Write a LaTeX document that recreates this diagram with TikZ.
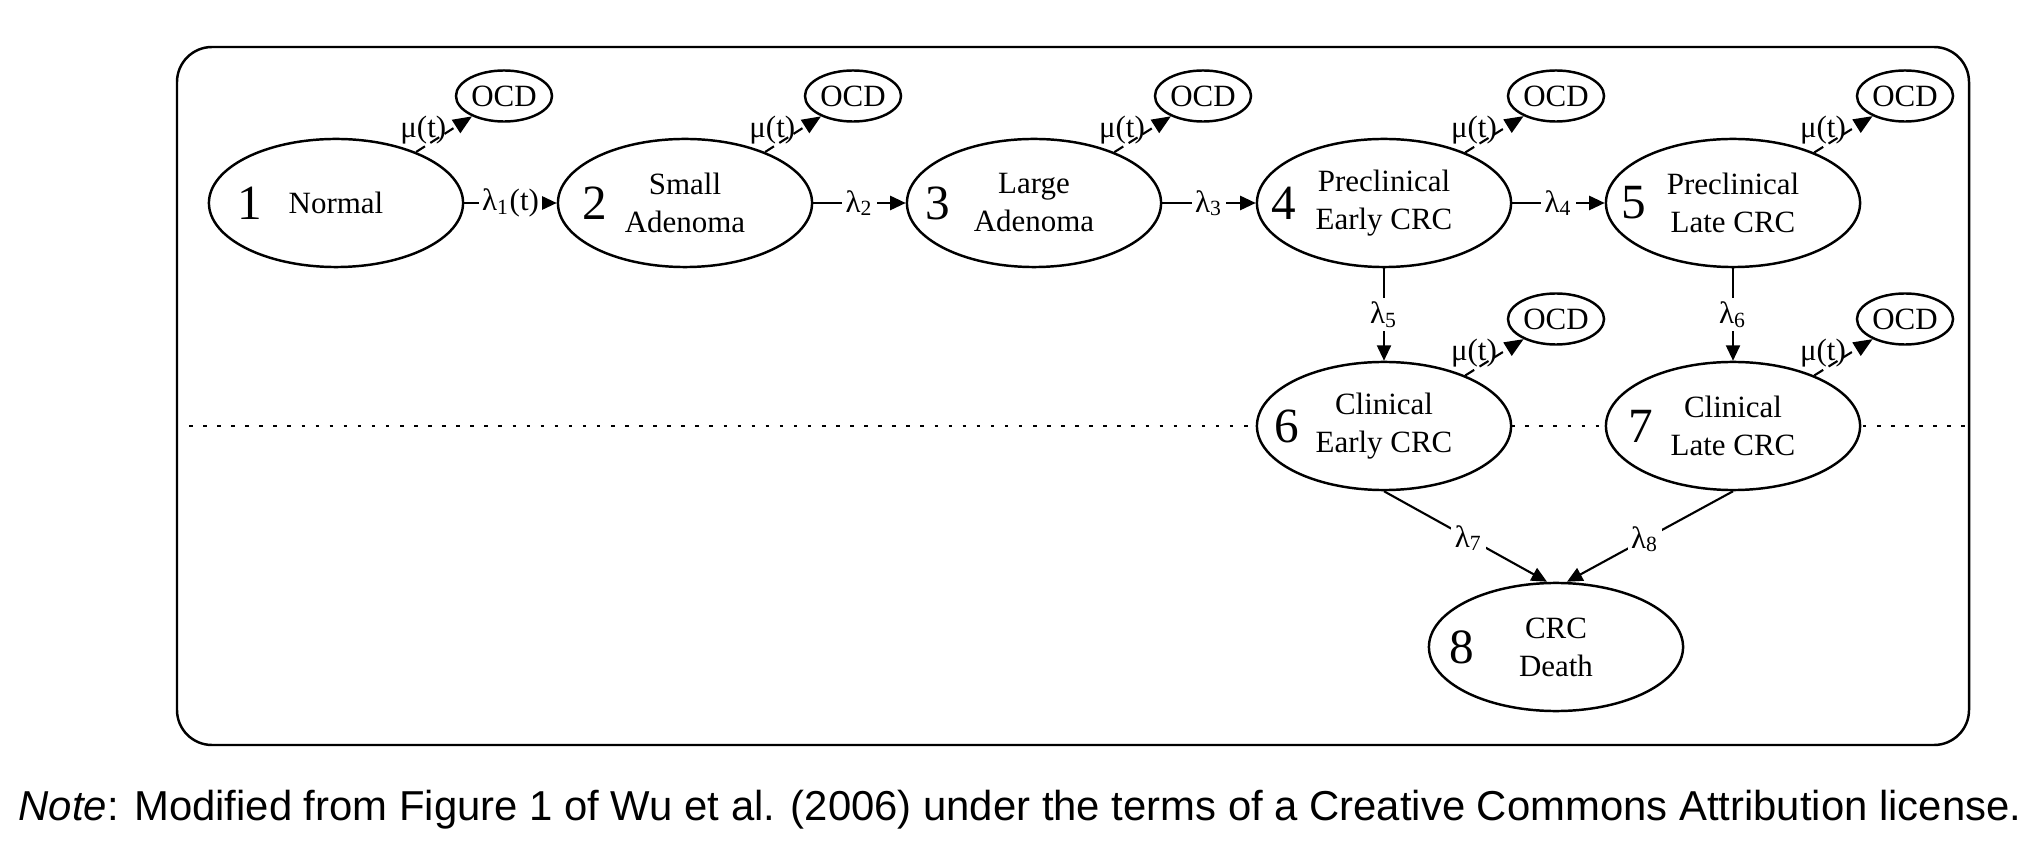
\documentclass[tikz,border=0pt]{standalone}
\usepackage{fontspec}
\setmainfont{Liberation Serif}
\newfontfamily\capfont{Liberation Sans}
\usetikzlibrary{shapes.geometric,arrows.meta,calc}
\begin{document}
\begin{tikzpicture}[x=0.01cm,y=-0.01cm,
  state/.style={ellipse,draw,line width=0.7pt,fill=white,minimum width=2.54cm,minimum height=1.28cm,inner sep=0pt,align=center,font=\fontsize{8.8}{10.8}\selectfont},
  ocd/.style={ellipse,draw,line width=0.7pt,fill=white,minimum width=0.96cm,minimum height=0.51cm,inner sep=0pt,font=\fontsize{8.8}{10.8}\selectfont},
  num/.style={font=\fontsize{14}{14}\selectfont,inner sep=0pt},
  tr/.style={line width=0.6pt,-{Triangle[length=4.4pt,width=4pt]}},
  die/.style={line width=0.6pt,-{Triangle[length=5.4pt,width=4.4pt]},dash pattern=on 3pt off 1.8pt},
  lab/.style={font=\fontsize{8.8}{10.8}\selectfont,fill=white,inner sep=1pt},
  mlab/.style={font=\fontsize{8.8}{10.8}\selectfont,inner sep=1pt},
]
\useasboundingbox (0,0) rectangle (2042,852);
\draw[line width=0.7pt,rounded corners=0.35cm] (177,47) rectangle (1969,745);
\coordinate (dl) at (189,426);
\coordinate (dr) at (1969,426);
\draw[line width=0.6pt,dash pattern=on 1pt off 3pt] (dl) -- (dr);

\node[state] (e1) at (336,203) {Normal};
\node[state] (e2) at (685,203) {Small\\Adenoma};
\node[state] (e3) at (1034,203) {Large\\Adenoma};
\node[state] (e4) at (1384,203) {Preclinical\\Early CRC};
\node[state] (e5) at (1733,203) {Preclinical\\Late CRC};
\node[state] (e6) at (1384,426) {Clinical\\Early CRC};
\node[state] (e7) at (1733,426) {Clinical\\Late CRC};
\node[state] (e8) at (1556,647) {CRC\\Death};

\node[num] (n1) at (250,203) {1};
\node[num] (n2) at (595,203) {2};
\node[num] (n3) at (938,203) {3};
\node[num] (n4) at (1284,203) {4};
\node[num] (n5) at (1634,203) {5};
\node[num] (n6) at (1287,426) {6};
\node[num] (n7) at (1641,426) {7};
\node[num] (n8) at (1462,647) {8};

\node[ocd] (o1) at (504,96) {OCD};
\node[ocd] (o2) at (853,96) {OCD};
\node[ocd] (o3) at (1203,96) {OCD};
\node[ocd] (o4) at (1556,96) {OCD};
\node[ocd] (o5) at (1905,96) {OCD};
\node[ocd] (o6) at (1556,319) {OCD};
\node[ocd] (o7) at (1905,319) {OCD};

\draw[tr] (e1) -- node[lab]{λ\textsubscript{1}(t)} (e2);
\draw[tr] (e2) -- node[lab]{λ\textsubscript{2}} (e3);
\draw[tr] (e3) -- node[lab]{λ\textsubscript{3}} (e4);
\draw[tr] (e4) -- node[lab]{λ\textsubscript{4}} (e5);
\draw[tr] (e4) -- node[lab]{λ\textsubscript{5}} (e6);
\draw[tr] (e5) -- node[lab]{λ\textsubscript{6}} (e7);
\draw[tr] (e6.south) -- node[lab,pos=0.52]{λ\textsubscript{7}} ($(e8.north)+(-9,0)$);
\draw[tr] (e7.south) -- node[lab,pos=0.53]{λ\textsubscript{8}} ($(e8.north)+(11,0)$);

\draw[die] (e1) -- node[mlab,pos=0.62,left]{μ(t)} (o1);
\draw[die] (e2) -- node[mlab,pos=0.62,left]{μ(t)} (o2);
\draw[die] (e3) -- node[mlab,pos=0.62,left]{μ(t)} (o3);
\draw[die] (e4) -- node[mlab,pos=0.62,left]{μ(t)} (o4);
\draw[die] (e5) -- node[mlab,pos=0.62,left]{μ(t)} (o5);
\draw[die] (e6) -- node[mlab,pos=0.62,left]{μ(t)} (o6);
\draw[die] (e7) -- node[mlab,pos=0.62,left]{μ(t)} (o7);

\node[anchor=base west,inner sep=0pt,font=\capfont\fontsize{11.9}{14}\selectfont] (cap) at (18,820) {\textit{Note}: Modified from Figure 1 of Wu et al. (2006) under the terms of a Creative Commons Attribution license.};
\end{tikzpicture}
\end{document}
